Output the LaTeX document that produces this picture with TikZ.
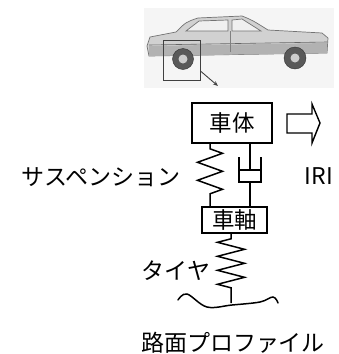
\documentclass[tikz,border=0pt]{standalone}
\usepackage{fontspec}
\setmainfont{Noto Sans CJK JP}
\usetikzlibrary{decorations.pathmorphing,arrows.meta}
\begin{document}
\begin{tikzpicture}[x=1pt,y=-1pt,
  labeltext/.style={font=\fontsize{23}{23}\selectfont, inner sep=0pt},
  blockbox/.style={draw, line width=1.6pt, inner sep=0pt, font=\fontsize{22.5}{22.5}\selectfont},
  link/.style={line width=1.6pt},
  coil/.style n args={3}{line width=1.5pt, decorate,
    decoration={zigzag, segment length=#1, amplitude=#2, pre length=5pt, post length=#3}},
  carline/.style={draw=black!55, line width=0.7pt}
]
\useasboundingbox (0,0) rectangle (338,354);

% ---------- car sketch ----------
\fill[black!4] (144,8) rectangle (334,88);
% body
\filldraw[carline, fill=black!18]
  (149,56) -- (147,46) -- (150,37) -- (176,32) .. controls (186,22) .. (198,18)
  -- (242,16) .. controls (252,20) .. (268,30) -- (322,33) -- (328,38) -- (327,53) -- cycle;
% lower panel and trim
\fill[black!30] (149,46) -- (327,43) -- (327,53) -- (149,56) -- cycle;
\draw[black!60, line width=0.6pt] (149,45) -- (327,42);
% windows
\filldraw[carline, fill=black!6] (199,21) -- (228,20) -- (228,31) -- (186,31) -- cycle;
\filldraw[carline, fill=black!6] (232,20) -- (242,19) -- (261,31) -- (232,31) -- cycle;
\draw[black!50, line width=0.6pt] (230,31) -- (230,52);
% wheels
\filldraw[draw=black!80, fill=black!65] (183,59) circle (10.5);
\fill[black!20] (183,59) circle (4.5);
\filldraw[draw=black!80, fill=black!65] (295,58) circle (11);
\fill[black!20] (295,58) circle (4.5);
% detail frame with pointer
\node[draw=black!75, line width=0.9pt, minimum width=37pt, minimum height=40pt, inner sep=0pt]
  (frame) at (181.5,60) {};
\coordinate (pointer) at (218,86);
\draw[black!75, line width=0.9pt, -{Stealth[length=5pt,width=4pt]}]
  ([yshift=-11pt]frame.east) -- (pointer);

% ---------- quarter-car model ----------
\node[blockbox, minimum width=80pt, minimum height=40pt] (body) at (232,123) {車体};
\node[blockbox, minimum width=65pt, minimum height=26pt] (axle) at (234.5,220) {車軸};

% suspension spring
\coordinate (springtop) at ([xshift=-22pt]body.south);
\coordinate (springbot) at ([xshift=-24.5pt]axle.north);
\draw[coil={18pt}{12.5pt}{5pt}] (springtop) -- (springbot);

% damper
\coordinate (rodtop) at ([xshift=18pt]body.south);
\coordinate (rodbot) at ([xshift=15.5pt]axle.north);
\draw[link] (239,157) -- (239,182) -- (261,182) -- (261,157);
\draw[link] (239,170) -- (261,170);
\draw[link] (rodtop) -- (250,170);
\draw[link] (250,182) -- (rodbot);

% tyre spring down to the road
\coordinate (tiretop) at ([xshift=-3.5pt]axle.south);
\coordinate (contact) at (231,303);
\draw[coil={14pt}{13.5pt}{9pt}, decoration={mirror}] (tiretop) -- (contact);

% road profile
\draw[line width=1.5pt, line cap=round] plot[smooth, tension=0.6] coordinates
  {(178,300) (187,294) (207,307) (232,305) (260,302) (273,297) (278,303)};

% output arrow
\draw[line width=1.4pt, line join=miter]
  (287,114) -- (312,114) -- (312,104) -- (320,123) -- (312,143) -- (312,133) -- (287,133) -- cycle;

% labels
\node[labeltext] (susp) at (101,177) {サスペンション};
\node[labeltext] (iri) at (319,176) {IRI};
\node[labeltext] (tire) at (176,271) {タイヤ};
\node[labeltext] (road) at (233,343) {路面プロファイル};
\end{tikzpicture}
\end{document}
